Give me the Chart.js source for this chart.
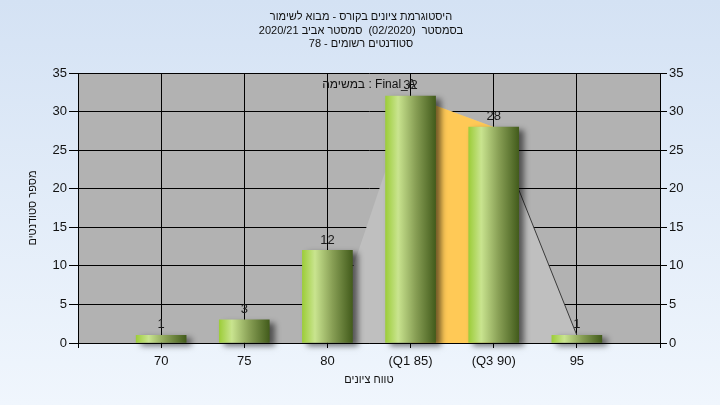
<!DOCTYPE html>
<html>
<head>
<meta charset="utf-8">
<script src="https://cdn.jsdelivr.net/npm/chart.js@4.4.1/dist/chart.umd.min.js"></script>
<style>
  html, body { margin: 0; padding: 0; }
  #wrap { width: 720px; height: 405px; }
</style>
</head>
<body>
<div id="wrap"><canvas id="histChart" width="720" height="405"></canvas></div>
<script>
// grade buckets and student counts
var tickValues = [70, 75, 80, 85, 90, 95];
var tickLabels = ['70', '75', '80', '(Q1 85)', '(Q3 90)', '95'];
var counts = [1, 3, 12, 32, 28, 1];

// grey curve behind the bars, and the orange Q1-Q3 band
var curveX = [80, 85, 90, 95];
var curveY = [0, 32, 28, 1];
var bandX = [85, 90];
var bandY = [32, 28];

var titleLines = ['היסטוגרמת ציונים בקורס - מבוא לשימור', 'בסמסטר  (02/2020)  סמסטר אביב 2020/21', 'סטודנטים רשומים - 78'];
var subTitle = 'במשימה : Final_A';
var xTitle = 'טווח ציונים';
var yTitle = 'מספר סטודנטים';

var FONT = '"Liberation Sans", Arial, sans-serif';

var barData = [];
for (let i = 0; i < tickValues.length; i++) {
  barData.push({ x: tickValues[i], y: counts[i] });
}
var curveData = [];
for (let i = 0; i < curveX.length; i++) {
  curveData.push({ x: curveX[i], y: curveY[i] });
}
var bandData = [];
for (let i = 0; i < bandX.length; i++) {
  bandData.push({ x: bandX[i], y: bandY[i] });
}

function barGradient(c) {
  const chart = c.chart;
  if (!chart.scales || !chart.scales.x || !c.raw) return '#8fb24a';
  const cx = chart.scales.x.getPixelForValue(c.raw.x);
  if (!isFinite(cx)) return '#8fb24a';
  const g = chart.ctx.createLinearGradient(cx - 25, 0, cx + 25, 0);
  g.addColorStop(0, '#9dcd3a');
  g.addColorStop(0.25, '#c9e48f');
  g.addColorStop(0.6, '#889f55');
  g.addColorStop(1, '#435c1c');
  return g;
}

const bgPlugin = {
  id: 'bgPlugin',
  beforeDraw(chart) {
    const ctx = chart.ctx;
    const a = chart.chartArea;
    ctx.save();
    const g = ctx.createLinearGradient(0, 0, 0, chart.height);
    g.addColorStop(0, '#d4e2f4');
    g.addColorStop(1, '#f0f6fd');
    ctx.fillStyle = g;
    ctx.fillRect(0, 0, chart.width, chart.height);
    ctx.fillStyle = '#b2b2b2';
    ctx.fillRect(a.left, a.top, a.right - a.left, a.bottom - a.top);
    ctx.restore();
  },
  beforeDatasetDraw(chart, args) {
    if (args.index !== 0) return;
    const ctx = chart.ctx;
    ctx.save();
    ctx.shadowColor = 'rgba(0,0,0,0.55)';
    ctx.shadowBlur = 6;
    ctx.shadowOffsetX = 5;
    ctx.shadowOffsetY = 3;
  },
  afterDatasetDraw(chart, args) {
    if (args.index !== 0) return;
    chart.ctx.restore();
  },
  afterDatasetsDraw(chart) {
    const ctx = chart.ctx;
    const a = chart.chartArea;
    ctx.save();
    ctx.fillStyle = '#1a1a1a';
    ctx.font = '13px ' + FONT;
    ctx.textAlign = 'center';
    ctx.textBaseline = 'bottom';
    const meta = chart.getDatasetMeta(0);
    meta.data.forEach(function (el, i) {
      ctx.fillText(String(counts[i]), el.x, el.y - 4);
    });
    // texts
    ctx.fillStyle = '#111';
    ctx.font = '12px ' + FONT;
    ctx.textBaseline = 'middle';
    ctx.fillText(subTitle, (a.left + a.right) / 2, 85);
    ctx.font = '11px ' + FONT;
    ctx.fillText(titleLines[0], 361, 17);
    ctx.fillText(titleLines[1], 361, 31);
    ctx.fillText(titleLines[2], 361, 44);
    ctx.fillText(xTitle, (a.left + a.right) / 2, 380);
    ctx.translate(33, (a.top + a.bottom) / 2);
    ctx.rotate(-Math.PI / 2);
    ctx.fillText(yTitle, 0, 0);
    ctx.restore();
  }
};

Chart.defaults.font.family = FONT;
Chart.defaults.font.size = 13;
Chart.defaults.color = '#111';

new Chart(document.getElementById('histChart'), {
  data: {
    datasets: [
      {
        type: 'bar',
        data: barData,
        backgroundColor: barGradient,
        borderWidth: 0,
        barThickness: 50,
        clip: false,
        order: 0
      },
      {
        type: 'line',
        data: bandData,
        fill: 'origin',
        backgroundColor: '#ffc956',
        borderWidth: 0,
        pointRadius: 0,
        tension: 0,
        order: 1
      },
      {
        type: 'line',
        data: curveData,
        fill: 'origin',
        backgroundColor: '#bfbfbf',
        borderWidth: 1,
        borderColor: '#3a3a3a',
        segment: {
          borderColor: function (s) { return s.p0.parsed.x >= 90 ? '#3a3a3a' : 'rgba(0,0,0,0)'; }
        },
        pointRadius: 0,
        tension: 0,
        order: 2
      }
    ]
  },
  options: {
    responsive: false,
    animation: false,
    layout: { padding: { top: 73, left: 0, right: 0, bottom: 0 } },
    plugins: {
      legend: { display: false },
      title: { display: false },
      tooltip: { enabled: false }
    },
    scales: {
      x: {
        type: 'linear',
        offset: false,
        min: 65,
        max: 100,
        afterFit: function (s) { s.height = 62; },
        afterBuildTicks: function (s) {
          s.ticks = [65, 70, 75, 80, 85, 90, 95, 100].map(function (v) { return { value: v }; });
        },
        ticks: {
          padding: 6,
          maxRotation: 0,
          autoSkip: false,
          color: '#111',
          callback: function (v) {
            const i = tickValues.indexOf(v);
            return i >= 0 ? tickLabels[i] : '';
          }
        },
        grid: { offset: false, color: '#000', lineWidth: 1, tickLength: 5 },
        border: { color: '#000', width: 1 }
      },
      y: {
        position: 'left',
        min: 0,
        max: 35,
        afterFit: function (s) { s.width = 78; },
        ticks: { stepSize: 5, padding: 2, color: '#111' },
        grid: { color: '#000', lineWidth: 1, tickLength: 9 },
        border: { color: '#000', width: 1 }
      },
      y2: {
        position: 'right',
        min: 0,
        max: 35,
        afterFit: function (s) { s.width = 60; },
        ticks: { stepSize: 5, padding: 2, color: '#111' },
        grid: { drawOnChartArea: false, color: '#000', tickLength: 7 },
        border: { color: '#000', width: 1 }
      }
    }
  },
  plugins: [bgPlugin]
});
</script>
</body>
</html>
